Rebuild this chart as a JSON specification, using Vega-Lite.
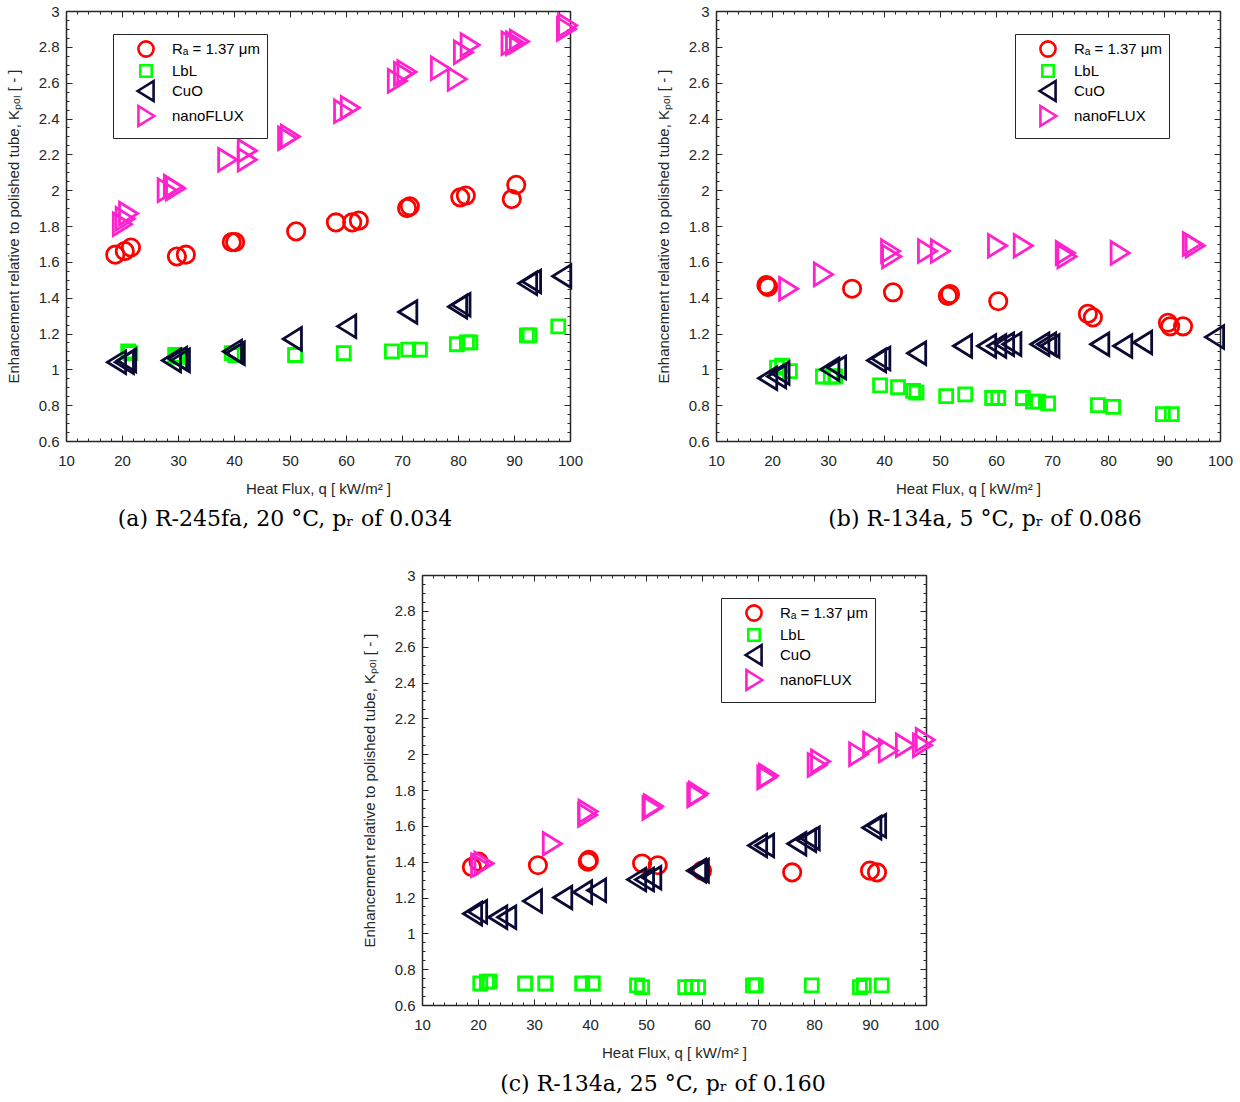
{
"$schema": "https://vega.github.io/schema/vega-lite/v6.json",
"background": "white",
"padding": {"left": 6, "top": 4, "right": 0, "bottom": 0},
"config": {
 "font": "Liberation Sans",
 "view": {"stroke": null},
 "axis": {"grid": false, "domainColor": "#262626", "domainWidth": 1.5, "tickColor": "#262626", "tickWidth": 1, "labelFont": "Liberation Sans", "labelFontSize": 15, "labelColor": "#262626", "titleFont": "Liberation Sans", "titleFontSize": 15, "titleFontWeight": "normal", "titleColor": "#262626", "labelFlush": false},
 "legend": {"title": null, "strokeColor": "#262626", "fillColor": "white", "padding": 6, "symbolOffset": 18, "labelOffset": 17, "rowPadding": -9, "symbolSize": 230, "symbolStrokeWidth": 2.6, "labelFont": "Liberation Sans", "labelFontSize": 15, "labelColor": "black"},
 "title": {"font": "DejaVu Serif", "fontSize": 22, "fontWeight": "normal", "color": "black"}
},
"datasets": {
 "a": [
  {"surface": "Rₐ = 1.37 μm", "q": 18.8, "K": 1.64}, {"surface": "Rₐ = 1.37 μm", "q": 20.5, "K": 1.66}, {"surface": "Rₐ = 1.37 μm", "q": 21.6, "K": 1.68}, {"surface": "Rₐ = 1.37 μm", "q": 29.8, "K": 1.63}, {"surface": "Rₐ = 1.37 μm", "q": 31.4, "K": 1.64}, {"surface": "Rₐ = 1.37 μm", "q": 39.6, "K": 1.71}, {"surface": "Rₐ = 1.37 μm", "q": 40.2, "K": 1.71}, {"surface": "Rₐ = 1.37 μm", "q": 51.1, "K": 1.77}, {"surface": "Rₐ = 1.37 μm", "q": 58.2, "K": 1.82}, {"surface": "Rₐ = 1.37 μm", "q": 61.1, "K": 1.82}, {"surface": "Rₐ = 1.37 μm", "q": 62.3, "K": 1.83}, {"surface": "Rₐ = 1.37 μm", "q": 70.9, "K": 1.90}, {"surface": "Rₐ = 1.37 μm", "q": 71.4, "K": 1.91}, {"surface": "Rₐ = 1.37 μm", "q": 80.4, "K": 1.96}, {"surface": "Rₐ = 1.37 μm", "q": 81.4, "K": 1.97}, {"surface": "Rₐ = 1.37 μm", "q": 89.6, "K": 1.95}, {"surface": "Rₐ = 1.37 μm", "q": 90.4, "K": 2.03},
  {"surface": "LbL", "q": 21.1, "K": 1.10}, {"surface": "LbL", "q": 21.5, "K": 1.09}, {"surface": "LbL", "q": 29.5, "K": 1.08}, {"surface": "LbL", "q": 30.0, "K": 1.07}, {"surface": "LbL", "q": 39.6, "K": 1.09}, {"surface": "LbL", "q": 40.2, "K": 1.08}, {"surface": "LbL", "q": 50.9, "K": 1.08}, {"surface": "LbL", "q": 59.6, "K": 1.09}, {"surface": "LbL", "q": 68.2, "K": 1.10}, {"surface": "LbL", "q": 71.1, "K": 1.11}, {"surface": "LbL", "q": 73.2, "K": 1.11}, {"surface": "LbL", "q": 79.8, "K": 1.14}, {"surface": "LbL", "q": 81.6, "K": 1.15}, {"surface": "LbL", "q": 82.2, "K": 1.15}, {"surface": "LbL", "q": 92.3, "K": 1.19}, {"surface": "LbL", "q": 92.8, "K": 1.19}, {"surface": "LbL", "q": 97.9, "K": 1.24},
  {"surface": "CuO", "q": 19.1, "K": 1.04}, {"surface": "CuO", "q": 20.5, "K": 1.04}, {"surface": "CuO", "q": 20.9, "K": 1.05}, {"surface": "CuO", "q": 28.9, "K": 1.05}, {"surface": "CuO", "q": 30.0, "K": 1.06}, {"surface": "CuO", "q": 30.5, "K": 1.05}, {"surface": "CuO", "q": 39.8, "K": 1.10}, {"surface": "CuO", "q": 40.3, "K": 1.09}, {"surface": "CuO", "q": 50.5, "K": 1.17}, {"surface": "CuO", "q": 60.2, "K": 1.24}, {"surface": "CuO", "q": 71.1, "K": 1.32}, {"surface": "CuO", "q": 80.0, "K": 1.35}, {"surface": "CuO", "q": 80.6, "K": 1.36}, {"surface": "CuO", "q": 92.5, "K": 1.48}, {"surface": "CuO", "q": 93.2, "K": 1.49}, {"surface": "CuO", "q": 98.6, "K": 1.52},
  {"surface": "nanoFLUX", "q": 20.0, "K": 1.81}, {"surface": "nanoFLUX", "q": 20.5, "K": 1.84}, {"surface": "nanoFLUX", "q": 21.1, "K": 1.87}, {"surface": "nanoFLUX", "q": 28.0, "K": 2.00}, {"surface": "nanoFLUX", "q": 29.1, "K": 2.02}, {"surface": "nanoFLUX", "q": 29.5, "K": 2.01}, {"surface": "nanoFLUX", "q": 38.8, "K": 2.17}, {"surface": "nanoFLUX", "q": 42.3, "K": 2.22}, {"surface": "nanoFLUX", "q": 42.3, "K": 2.17}, {"surface": "nanoFLUX", "q": 49.5, "K": 2.29}, {"surface": "nanoFLUX", "q": 50.0, "K": 2.30}, {"surface": "nanoFLUX", "q": 59.5, "K": 2.44}, {"surface": "nanoFLUX", "q": 60.7, "K": 2.46}, {"surface": "nanoFLUX", "q": 69.1, "K": 2.61}, {"surface": "nanoFLUX", "q": 70.2, "K": 2.65}, {"surface": "nanoFLUX", "q": 70.8, "K": 2.66}, {"surface": "nanoFLUX", "q": 76.8, "K": 2.68}, {"surface": "nanoFLUX", "q": 79.8, "K": 2.62}, {"surface": "nanoFLUX", "q": 80.9, "K": 2.77}, {"surface": "nanoFLUX", "q": 82.1, "K": 2.81}, {"surface": "nanoFLUX", "q": 89.4, "K": 2.82}, {"surface": "nanoFLUX", "q": 90.2, "K": 2.82}, {"surface": "nanoFLUX", "q": 90.9, "K": 2.83}, {"surface": "nanoFLUX", "q": 99.3, "K": 2.90}, {"surface": "nanoFLUX", "q": 99.5, "K": 2.92}
 ],
 "b": [
  {"surface": "Rₐ = 1.37 μm", "q": 19.3, "K": 1.46}, {"surface": "Rₐ = 1.37 μm", "q": 19.0, "K": 1.47}, {"surface": "Rₐ = 1.37 μm", "q": 34.3, "K": 1.45}, {"surface": "Rₐ = 1.37 μm", "q": 41.6, "K": 1.43}, {"surface": "Rₐ = 1.37 μm", "q": 51.4, "K": 1.41}, {"surface": "Rₐ = 1.37 μm", "q": 51.8, "K": 1.42}, {"surface": "Rₐ = 1.37 μm", "q": 60.4, "K": 1.38}, {"surface": "Rₐ = 1.37 μm", "q": 76.4, "K": 1.31}, {"surface": "Rₐ = 1.37 μm", "q": 77.3, "K": 1.29}, {"surface": "Rₐ = 1.37 μm", "q": 90.7, "K": 1.26}, {"surface": "Rₐ = 1.37 μm", "q": 91.1, "K": 1.24}, {"surface": "Rₐ = 1.37 μm", "q": 93.4, "K": 1.24},
  {"surface": "LbL", "q": 20.9, "K": 1.01}, {"surface": "LbL", "q": 21.8, "K": 1.02}, {"surface": "LbL", "q": 23.2, "K": 0.99}, {"surface": "LbL", "q": 29.1, "K": 0.96}, {"surface": "LbL", "q": 30.5, "K": 0.96}, {"surface": "LbL", "q": 31.3, "K": 0.96}, {"surface": "LbL", "q": 39.3, "K": 0.91}, {"surface": "LbL", "q": 42.5, "K": 0.90}, {"surface": "LbL", "q": 45.2, "K": 0.88}, {"surface": "LbL", "q": 45.8, "K": 0.87}, {"surface": "LbL", "q": 51.1, "K": 0.85}, {"surface": "LbL", "q": 54.5, "K": 0.86}, {"surface": "LbL", "q": 59.3, "K": 0.84}, {"surface": "LbL", "q": 60.4, "K": 0.84}, {"surface": "LbL", "q": 64.8, "K": 0.84}, {"surface": "LbL", "q": 66.6, "K": 0.82}, {"surface": "LbL", "q": 67.5, "K": 0.82}, {"surface": "LbL", "q": 69.3, "K": 0.81}, {"surface": "LbL", "q": 78.2, "K": 0.80}, {"surface": "LbL", "q": 80.9, "K": 0.79}, {"surface": "LbL", "q": 89.8, "K": 0.75}, {"surface": "LbL", "q": 91.4, "K": 0.75},
  {"surface": "CuO", "q": 19.3, "K": 0.95}, {"surface": "CuO", "q": 20.9, "K": 0.96}, {"surface": "CuO", "q": 21.5, "K": 0.98}, {"surface": "CuO", "q": 30.4, "K": 1.00}, {"surface": "CuO", "q": 31.6, "K": 1.01}, {"surface": "CuO", "q": 38.75, "K": 1.05}, {"surface": "CuO", "q": 39.5, "K": 1.06}, {"surface": "CuO", "q": 45.9, "K": 1.09}, {"surface": "CuO", "q": 54.1, "K": 1.13}, {"surface": "CuO", "q": 58.4, "K": 1.13}, {"surface": "CuO", "q": 60.2, "K": 1.13}, {"surface": "CuO", "q": 61.6, "K": 1.14}, {"surface": "CuO", "q": 62.9, "K": 1.14}, {"surface": "CuO", "q": 67.9, "K": 1.14}, {"surface": "CuO", "q": 69.1, "K": 1.14}, {"surface": "CuO", "q": 69.7, "K": 1.13}, {"surface": "CuO", "q": 78.6, "K": 1.14}, {"surface": "CuO", "q": 82.7, "K": 1.13}, {"surface": "CuO", "q": 86.25, "K": 1.15}, {"surface": "CuO", "q": 99.1, "K": 1.18},
  {"surface": "nanoFLUX", "q": 22.9, "K": 1.45}, {"surface": "nanoFLUX", "q": 29.1, "K": 1.53}, {"surface": "nanoFLUX", "q": 41.1, "K": 1.66}, {"surface": "nanoFLUX", "q": 41.3, "K": 1.63}, {"surface": "nanoFLUX", "q": 47.7, "K": 1.66}, {"surface": "nanoFLUX", "q": 50.0, "K": 1.66}, {"surface": "nanoFLUX", "q": 60.2, "K": 1.69}, {"surface": "nanoFLUX", "q": 64.8, "K": 1.69}, {"surface": "nanoFLUX", "q": 72.3, "K": 1.65}, {"surface": "nanoFLUX", "q": 72.6, "K": 1.63}, {"surface": "nanoFLUX", "q": 82.1, "K": 1.65}, {"surface": "nanoFLUX", "q": 95.5, "K": 1.69}, {"surface": "nanoFLUX", "q": 95.0, "K": 1.70}
 ],
 "c": [
  {"surface": "Rₐ = 1.37 μm", "q": 18.9, "K": 1.37}, {"surface": "Rₐ = 1.37 μm", "q": 20.1, "K": 1.40}, {"surface": "Rₐ = 1.37 μm", "q": 30.7, "K": 1.38}, {"surface": "Rₐ = 1.37 μm", "q": 39.6, "K": 1.40}, {"surface": "Rₐ = 1.37 μm", "q": 39.8, "K": 1.41}, {"surface": "Rₐ = 1.37 μm", "q": 49.3, "K": 1.39}, {"surface": "Rₐ = 1.37 μm", "q": 52.1, "K": 1.38}, {"surface": "Rₐ = 1.37 μm", "q": 60.0, "K": 1.35}, {"surface": "Rₐ = 1.37 μm", "q": 76.1, "K": 1.34}, {"surface": "Rₐ = 1.37 μm", "q": 90.0, "K": 1.35}, {"surface": "Rₐ = 1.37 μm", "q": 91.25, "K": 1.34},
  {"surface": "LbL", "q": 20.4, "K": 0.72}, {"surface": "LbL", "q": 21.6, "K": 0.73}, {"surface": "LbL", "q": 22.1, "K": 0.73}, {"surface": "LbL", "q": 28.4, "K": 0.72}, {"surface": "LbL", "q": 32.0, "K": 0.72}, {"surface": "LbL", "q": 38.6, "K": 0.72}, {"surface": "LbL", "q": 40.5, "K": 0.72}, {"surface": "LbL", "q": 48.4, "K": 0.71}, {"surface": "LbL", "q": 49.3, "K": 0.70}, {"surface": "LbL", "q": 57.0, "K": 0.70}, {"surface": "LbL", "q": 58.2, "K": 0.70}, {"surface": "LbL", "q": 59.3, "K": 0.70}, {"surface": "LbL", "q": 69.1, "K": 0.71}, {"surface": "LbL", "q": 69.6, "K": 0.71}, {"surface": "LbL", "q": 79.6, "K": 0.71}, {"surface": "LbL", "q": 88.2, "K": 0.70}, {"surface": "LbL", "q": 88.9, "K": 0.71}, {"surface": "LbL", "q": 92.1, "K": 0.71},
  {"surface": "CuO", "q": 19.1, "K": 1.11}, {"surface": "CuO", "q": 20.0, "K": 1.12}, {"surface": "CuO", "q": 23.6, "K": 1.09}, {"surface": "CuO", "q": 25.2, "K": 1.09}, {"surface": "CuO", "q": 29.8, "K": 1.18}, {"surface": "CuO", "q": 35.2, "K": 1.20}, {"surface": "CuO", "q": 38.75, "K": 1.23}, {"surface": "CuO", "q": 41.25, "K": 1.24}, {"surface": "CuO", "q": 48.4, "K": 1.30}, {"surface": "CuO", "q": 49.8, "K": 1.30}, {"surface": "CuO", "q": 51.1, "K": 1.31}, {"surface": "CuO", "q": 59.1, "K": 1.35}, {"surface": "CuO", "q": 59.6, "K": 1.35}, {"surface": "CuO", "q": 70.0, "K": 1.49}, {"surface": "CuO", "q": 71.25, "K": 1.49}, {"surface": "CuO", "q": 77.0, "K": 1.50}, {"surface": "CuO", "q": 78.75, "K": 1.52}, {"surface": "CuO", "q": 79.4, "K": 1.53}, {"surface": "CuO", "q": 90.4, "K": 1.59}, {"surface": "CuO", "q": 91.25, "K": 1.60},
  {"surface": "nanoFLUX", "q": 20.4, "K": 1.38}, {"surface": "nanoFLUX", "q": 21.0, "K": 1.39}, {"surface": "nanoFLUX", "q": 33.2, "K": 1.50}, {"surface": "nanoFLUX", "q": 39.5, "K": 1.66}, {"surface": "nanoFLUX", "q": 39.6, "K": 1.68}, {"surface": "nanoFLUX", "q": 51.0, "K": 1.70}, {"surface": "nanoFLUX", "q": 51.25, "K": 1.71}, {"surface": "nanoFLUX", "q": 59.0, "K": 1.77}, {"surface": "nanoFLUX", "q": 59.3, "K": 1.78}, {"surface": "nanoFLUX", "q": 71.5, "K": 1.87}, {"surface": "nanoFLUX", "q": 71.8, "K": 1.88}, {"surface": "nanoFLUX", "q": 80.5, "K": 1.94}, {"surface": "nanoFLUX", "q": 81.1, "K": 1.96}, {"surface": "nanoFLUX", "q": 87.9, "K": 2.00}, {"surface": "nanoFLUX", "q": 90.4, "K": 2.06}, {"surface": "nanoFLUX", "q": 93.2, "K": 2.02}, {"surface": "nanoFLUX", "q": 96.25, "K": 2.05}, {"surface": "nanoFLUX", "q": 99.3, "K": 2.05}, {"surface": "nanoFLUX", "q": 99.8, "K": 2.08}
 ]
},
"spacing": 38,
"resolve": {"scale": {"color": "independent", "shape": "independent"}, "legend": {"color": "independent", "shape": "independent"}},
"vconcat": [
 {
  "bounds": "flush",
  "spacing": 146,
  "resolve": {"scale": {"color": "independent", "shape": "independent"}, "legend": {"color": "independent", "shape": "independent"}},
  "hconcat": [
   {
    "width": 504, "height": 430,
    "data": {"name": "a"},
    "title": {"text": "(a) R-245fa, 20 °C, pᵣ of 0.034", "orient": "bottom", "frame": "group", "anchor": "middle", "dx": -33, "offset": 13},
    "layer": [
     {"mark": {"type": "point", "filled": false, "strokeWidth": 2.8, "size": 300, "opacity": 1},
      "encoding": {
       "x": {"field": "q", "type": "quantitative", "scale": {"domain": [10, 100], "nice": false, "zero": false}, "axis": {"orient": "bottom", "values": [10,20,30,40,50,60,70,80,90,100], "tickSize": -6, "labelPadding": 18, "title": "Heat Flux, q [ kW/m² ]", "titlePadding": 13}},
       "y": {"field": "K", "type": "quantitative", "scale": {"domain": [0.6, 3], "nice": false, "zero": false}, "axis": {"orient": "left", "values": [0.6,0.8,1,1.2,1.4,1.6,1.8,2,2.2,2.4,2.6,2.8,3], "format": "~g", "tickSize": -6, "labelPadding": 13, "title": "Enhancement relative to polished tube, Kₚₒₗ [ - ]", "titlePadding": 17}},
       "color": {"field": "surface", "type": "nominal", "scale": {"domain": ["Rₐ = 1.37 μm", "LbL", "CuO", "nanoFLUX"], "range": ["#FF0000", "#00FF00", "#0A0A35", "#FF22CC"]}, "legend": {"orient": "none", "legendX": 47, "legendY": 23}},
       "shape": {"field": "surface", "type": "nominal", "scale": {"domain": ["Rₐ = 1.37 μm", "LbL", "CuO", "nanoFLUX"], "range": ["circle", "M-0.75,-0.75H0.75V0.75H-0.75Z", "M-1.1,0L1,-1.3L1,1.3Z", "M1.1,0L-1,-1.3L-1,1.3Z"]}, "legend": {"orient": "none", "legendX": 47, "legendY": 23}}
      }},
     {"mark": {"type": "point", "opacity": 0},
      "encoding": {
       "x": {"field": "q", "type": "quantitative", "scale": {"domain": [10, 100], "nice": false, "zero": false}, "axis": {"orient": "top", "values": [10,20,30,40,50,60,70,80,90,100], "tickSize": -6, "labels": false, "title": null}},
       "y": {"field": "K", "type": "quantitative", "scale": {"domain": [0.6, 3], "nice": false, "zero": false}, "axis": {"orient": "right", "values": [0.6,0.8,1,1.2,1.4,1.6,1.8,2,2.2,2.4,2.6,2.8,3], "tickSize": -6, "labels": false, "title": null}}
      }},
     {"mark": {"type": "point", "opacity": 0},
      "encoding": {
       "x": {"field": "q", "type": "quantitative", "scale": {"domain": [10, 100], "nice": false, "zero": false}, "axis": {"orient": "bottom", "values": [10,12,14,16,18,20,22,24,26,28,30,32,34,36,38,40,42,44,46,48,50,52,54,56,58,60,62,64,66,68,70,72,74,76,78,80,82,84,86,88,90,92,94,96,98,100], "tickSize": -3, "labels": false, "domain": false, "title": null}},
       "y": {"field": "K", "type": "quantitative", "scale": {"domain": [0.6, 3], "nice": false, "zero": false}, "axis": {"orient": "left", "values": [0.6,0.65,0.7,0.75,0.8,0.85,0.9,0.95,1,1.05,1.1,1.15,1.2,1.25,1.3,1.35,1.4,1.45,1.5,1.55,1.6,1.65,1.7,1.75,1.8,1.85,1.9,1.95,2,2.05,2.1,2.15,2.2,2.25,2.3,2.35,2.4,2.45,2.5,2.55,2.6,2.65,2.7,2.75,2.8,2.85,2.9,2.95,3], "tickSize": -3, "labels": false, "domain": false, "title": null}}
      }},
     {"mark": {"type": "point", "opacity": 0},
      "encoding": {
       "x": {"field": "q", "type": "quantitative", "scale": {"domain": [10, 100], "nice": false, "zero": false}, "axis": {"orient": "top", "values": [10,12,14,16,18,20,22,24,26,28,30,32,34,36,38,40,42,44,46,48,50,52,54,56,58,60,62,64,66,68,70,72,74,76,78,80,82,84,86,88,90,92,94,96,98,100], "tickSize": -3, "labels": false, "domain": false, "title": null}},
       "y": {"field": "K", "type": "quantitative", "scale": {"domain": [0.6, 3], "nice": false, "zero": false}, "axis": {"orient": "right", "values": [0.6,0.65,0.7,0.75,0.8,0.85,0.9,0.95,1,1.05,1.1,1.15,1.2,1.25,1.3,1.35,1.4,1.45,1.5,1.55,1.6,1.65,1.7,1.75,1.8,1.85,1.9,1.95,2,2.05,2.1,2.15,2.2,2.25,2.3,2.35,2.4,2.45,2.5,2.55,2.6,2.65,2.7,2.75,2.8,2.85,2.9,2.95,3], "tickSize": -3, "labels": false, "domain": false, "title": null}}
      }}
    ],
    "resolve": {"axis": {"x": "independent", "y": "independent"}}
   },
   {
    "width": 504, "height": 430,
    "data": {"name": "b"},
    "title": {"text": "(b) R-134a, 5 °C, pᵣ of 0.086", "orient": "bottom", "frame": "group", "anchor": "middle", "dx": 17, "offset": 13},
    "layer": [
     {"mark": {"type": "point", "filled": false, "strokeWidth": 2.8, "size": 300, "opacity": 1},
      "encoding": {
       "x": {"field": "q", "type": "quantitative", "scale": {"domain": [10, 100], "nice": false, "zero": false}, "axis": {"orient": "bottom", "values": [10,20,30,40,50,60,70,80,90,100], "tickSize": -6, "labelPadding": 18, "title": "Heat Flux, q [ kW/m² ]", "titlePadding": 13}},
       "y": {"field": "K", "type": "quantitative", "scale": {"domain": [0.6, 3], "nice": false, "zero": false}, "axis": {"orient": "left", "values": [0.6,0.8,1,1.2,1.4,1.6,1.8,2,2.2,2.4,2.6,2.8,3], "format": "~g", "tickSize": -6, "labelPadding": 13, "title": "Enhancement relative to polished tube, Kₚₒₗ [ - ]", "titlePadding": 17}},
       "color": {"field": "surface", "type": "nominal", "scale": {"domain": ["Rₐ = 1.37 μm", "LbL", "CuO", "nanoFLUX"], "range": ["#FF0000", "#00FF00", "#0A0A35", "#FF22CC"]}, "legend": {"orient": "none", "legendX": 299, "legendY": 23}},
       "shape": {"field": "surface", "type": "nominal", "scale": {"domain": ["Rₐ = 1.37 μm", "LbL", "CuO", "nanoFLUX"], "range": ["circle", "M-0.75,-0.75H0.75V0.75H-0.75Z", "M-1.1,0L1,-1.3L1,1.3Z", "M1.1,0L-1,-1.3L-1,1.3Z"]}, "legend": {"orient": "none", "legendX": 299, "legendY": 23}}
      }},
     {"mark": {"type": "point", "opacity": 0},
      "encoding": {
       "x": {"field": "q", "type": "quantitative", "scale": {"domain": [10, 100], "nice": false, "zero": false}, "axis": {"orient": "top", "values": [10,20,30,40,50,60,70,80,90,100], "tickSize": -6, "labels": false, "title": null}},
       "y": {"field": "K", "type": "quantitative", "scale": {"domain": [0.6, 3], "nice": false, "zero": false}, "axis": {"orient": "right", "values": [0.6,0.8,1,1.2,1.4,1.6,1.8,2,2.2,2.4,2.6,2.8,3], "tickSize": -6, "labels": false, "title": null}}
      }},
     {"mark": {"type": "point", "opacity": 0},
      "encoding": {
       "x": {"field": "q", "type": "quantitative", "scale": {"domain": [10, 100], "nice": false, "zero": false}, "axis": {"orient": "bottom", "values": [10,12,14,16,18,20,22,24,26,28,30,32,34,36,38,40,42,44,46,48,50,52,54,56,58,60,62,64,66,68,70,72,74,76,78,80,82,84,86,88,90,92,94,96,98,100], "tickSize": -3, "labels": false, "domain": false, "title": null}},
       "y": {"field": "K", "type": "quantitative", "scale": {"domain": [0.6, 3], "nice": false, "zero": false}, "axis": {"orient": "left", "values": [0.6,0.65,0.7,0.75,0.8,0.85,0.9,0.95,1,1.05,1.1,1.15,1.2,1.25,1.3,1.35,1.4,1.45,1.5,1.55,1.6,1.65,1.7,1.75,1.8,1.85,1.9,1.95,2,2.05,2.1,2.15,2.2,2.25,2.3,2.35,2.4,2.45,2.5,2.55,2.6,2.65,2.7,2.75,2.8,2.85,2.9,2.95,3], "tickSize": -3, "labels": false, "domain": false, "title": null}}
      }},
     {"mark": {"type": "point", "opacity": 0},
      "encoding": {
       "x": {"field": "q", "type": "quantitative", "scale": {"domain": [10, 100], "nice": false, "zero": false}, "axis": {"orient": "top", "values": [10,12,14,16,18,20,22,24,26,28,30,32,34,36,38,40,42,44,46,48,50,52,54,56,58,60,62,64,66,68,70,72,74,76,78,80,82,84,86,88,90,92,94,96,98,100], "tickSize": -3, "labels": false, "domain": false, "title": null}},
       "y": {"field": "K", "type": "quantitative", "scale": {"domain": [0.6, 3], "nice": false, "zero": false}, "axis": {"orient": "right", "values": [0.6,0.65,0.7,0.75,0.8,0.85,0.9,0.95,1,1.05,1.1,1.15,1.2,1.25,1.3,1.35,1.4,1.45,1.5,1.55,1.6,1.65,1.7,1.75,1.8,1.85,1.9,1.95,2,2.05,2.1,2.15,2.2,2.25,2.3,2.35,2.4,2.45,2.5,2.55,2.6,2.65,2.7,2.75,2.8,2.85,2.9,2.95,3], "tickSize": -3, "labels": false, "domain": false, "title": null}}
      }}
    ],
    "resolve": {"axis": {"x": "independent", "y": "independent"}}
   }
  ]
 },
 {
  "bounds": "flush",
  "spacing": 56,
  "resolve": {"scale": {"color": "independent", "shape": "independent"}, "legend": {"color": "independent", "shape": "independent"}},
  "hconcat": [
   {"width": 300, "height": 430, "data": {"values": [{"z": 0}]}, "mark": {"type": "point", "opacity": 0}},
   {
    "width": 504, "height": 430,
    "data": {"name": "c"},
    "title": {"text": "(c) R-134a, 25 °C, pᵣ of 0.160", "orient": "bottom", "frame": "group", "anchor": "middle", "dx": -11, "offset": 14},
    "layer": [
     {"mark": {"type": "point", "filled": false, "strokeWidth": 2.8, "size": 300, "opacity": 1},
      "encoding": {
       "x": {"field": "q", "type": "quantitative", "scale": {"domain": [10, 100], "nice": false, "zero": false}, "axis": {"orient": "bottom", "values": [10,20,30,40,50,60,70,80,90,100], "tickSize": -6, "labelPadding": 18, "title": "Heat Flux, q [ kW/m² ]", "titlePadding": 13}},
       "y": {"field": "K", "type": "quantitative", "scale": {"domain": [0.6, 3], "nice": false, "zero": false}, "axis": {"orient": "left", "values": [0.6,0.8,1,1.2,1.4,1.6,1.8,2,2.2,2.4,2.6,2.8,3], "format": "~g", "tickSize": -6, "labelPadding": 13, "title": "Enhancement relative to polished tube, Kₚₒₗ [ - ]", "titlePadding": 17}},
       "color": {"field": "surface", "type": "nominal", "scale": {"domain": ["Rₐ = 1.37 μm", "LbL", "CuO", "nanoFLUX"], "range": ["#FF0000", "#00FF00", "#0A0A35", "#FF22CC"]}, "legend": {"orient": "none", "legendX": 299, "legendY": 23}},
       "shape": {"field": "surface", "type": "nominal", "scale": {"domain": ["Rₐ = 1.37 μm", "LbL", "CuO", "nanoFLUX"], "range": ["circle", "M-0.75,-0.75H0.75V0.75H-0.75Z", "M-1.1,0L1,-1.3L1,1.3Z", "M1.1,0L-1,-1.3L-1,1.3Z"]}, "legend": {"orient": "none", "legendX": 299, "legendY": 23}}
      }},
     {"mark": {"type": "point", "opacity": 0},
      "encoding": {
       "x": {"field": "q", "type": "quantitative", "scale": {"domain": [10, 100], "nice": false, "zero": false}, "axis": {"orient": "top", "values": [10,20,30,40,50,60,70,80,90,100], "tickSize": -6, "labels": false, "title": null}},
       "y": {"field": "K", "type": "quantitative", "scale": {"domain": [0.6, 3], "nice": false, "zero": false}, "axis": {"orient": "right", "values": [0.6,0.8,1,1.2,1.4,1.6,1.8,2,2.2,2.4,2.6,2.8,3], "tickSize": -6, "labels": false, "title": null}}
      }},
     {"mark": {"type": "point", "opacity": 0},
      "encoding": {
       "x": {"field": "q", "type": "quantitative", "scale": {"domain": [10, 100], "nice": false, "zero": false}, "axis": {"orient": "bottom", "values": [10,12,14,16,18,20,22,24,26,28,30,32,34,36,38,40,42,44,46,48,50,52,54,56,58,60,62,64,66,68,70,72,74,76,78,80,82,84,86,88,90,92,94,96,98,100], "tickSize": -3, "labels": false, "domain": false, "title": null}},
       "y": {"field": "K", "type": "quantitative", "scale": {"domain": [0.6, 3], "nice": false, "zero": false}, "axis": {"orient": "left", "values": [0.6,0.65,0.7,0.75,0.8,0.85,0.9,0.95,1,1.05,1.1,1.15,1.2,1.25,1.3,1.35,1.4,1.45,1.5,1.55,1.6,1.65,1.7,1.75,1.8,1.85,1.9,1.95,2,2.05,2.1,2.15,2.2,2.25,2.3,2.35,2.4,2.45,2.5,2.55,2.6,2.65,2.7,2.75,2.8,2.85,2.9,2.95,3], "tickSize": -3, "labels": false, "domain": false, "title": null}}
      }},
     {"mark": {"type": "point", "opacity": 0},
      "encoding": {
       "x": {"field": "q", "type": "quantitative", "scale": {"domain": [10, 100], "nice": false, "zero": false}, "axis": {"orient": "top", "values": [10,12,14,16,18,20,22,24,26,28,30,32,34,36,38,40,42,44,46,48,50,52,54,56,58,60,62,64,66,68,70,72,74,76,78,80,82,84,86,88,90,92,94,96,98,100], "tickSize": -3, "labels": false, "domain": false, "title": null}},
       "y": {"field": "K", "type": "quantitative", "scale": {"domain": [0.6, 3], "nice": false, "zero": false}, "axis": {"orient": "right", "values": [0.6,0.65,0.7,0.75,0.8,0.85,0.9,0.95,1,1.05,1.1,1.15,1.2,1.25,1.3,1.35,1.4,1.45,1.5,1.55,1.6,1.65,1.7,1.75,1.8,1.85,1.9,1.95,2,2.05,2.1,2.15,2.2,2.25,2.3,2.35,2.4,2.45,2.5,2.55,2.6,2.65,2.7,2.75,2.8,2.85,2.9,2.95,3], "tickSize": -3, "labels": false, "domain": false, "title": null}}
      }}
    ],
    "resolve": {"axis": {"x": "independent", "y": "independent"}}
   }
  ]
 }
]
}
